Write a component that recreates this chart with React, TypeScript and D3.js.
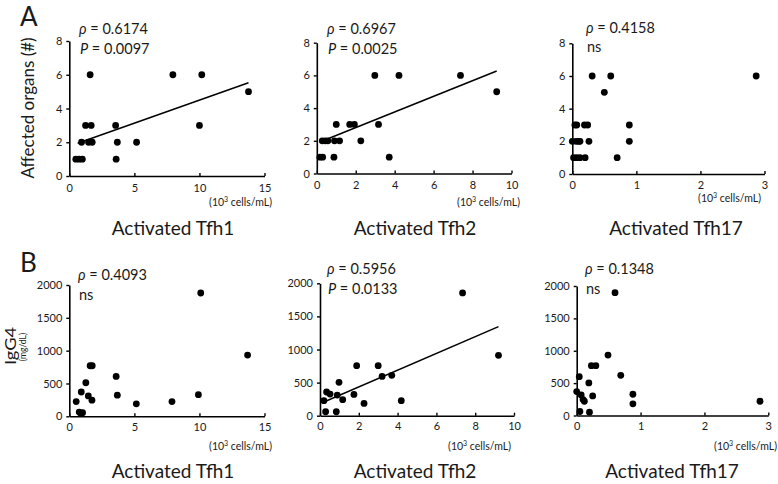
import React, { useEffect, useRef } from 'react';
import * as d3 from 'd3';

const W = 778;
const H = 484;
const FONT = 'Lato, "Open Sans", sans-serif';
const INK = '#1a1a1a';

// tick values
const organTicks = [0, 2, 4, 6, 8];
const igg4Ticks = [0, 500, 1000, 1500, 2000];
const tfh1Ticks = [0, 5, 10, 15];
const tfh2Ticks = [0, 2, 4, 6, 8, 10];
const tfh17Ticks = [0, 1, 2, 3];

// A: affected organs vs activated Tfh counts (10^3 cells/mL)
const tfh1OrgX = [0.5, 0.75, 1.0, 3.6, 0.94, 1.48, 1.76, 3.69, 5.17, 1.25, 1.68, 3.56, 10.0, 13.77, 1.6, 7.96, 10.18];
const tfh1OrgY = [1, 1, 1, 1, 2, 2, 2, 2, 2, 3, 3, 3, 3, 5, 6, 6, 6];
const tfh2OrgX = [0.16, 0.3, 0.88, 3.72, 0.28, 0.43, 0.57, 0.91, 1.17, 2.26, 1.0, 1.69, 1.93, 3.17, 9.24, 2.98, 4.22, 7.38];
const tfh2OrgY = [1, 1, 1, 1, 2, 2, 2, 2, 2, 2, 3, 3, 3, 3, 5, 6, 6, 6];
const tfh17OrgX = [0.02, 0.07, 0.12, 0.2, 0.7, 0, 0.06, 0.1, 0.12, 0.26, 0.89, 0.04, 0.07, 0.19, 0.24, 0.89, 0.5, 0.31, 0.6, 2.87];
const tfh17OrgY = [1, 1, 1, 1, 1, 2, 2, 2, 2, 2, 2, 3, 3, 3, 3, 3, 5, 6, 6, 6];

// B: serum IgG4 (mg/dL) vs activated Tfh counts
const tfh1IgX = [0.53, 0.76, 0.88, 1.02, 0.92, 1.27, 1.6, 1.76, 1.46, 1.74, 3.6, 3.69, 5.15, 7.89, 9.92, 10.1, 13.7];
const tfh1IgY = [225, 65, 45, 55, 370, 511, 770, 770, 310, 245, 608, 322, 190, 225, 329, 1878, 932];
const tfh2IgX = [0.2, 0.29, 0.34, 0.52, 0.84, 0.89, 0.98, 1.17, 1.75, 1.89, 2.27, 3.0, 3.2, 3.7, 4.19, 7.35, 9.2];
const tfh2IgY = [227, 60, 358, 327, 60, 312, 504, 242, 322, 756, 186, 756, 594, 610, 227, 1854, 912];
const tfh17IgX = [0, 0.04, 0.05, 0.07, 0.1, 0.12, 0.19, 0.2, 0.23, 0.25, 0.3, 0.49, 0.6, 0.69, 0.88, 0.88, 2.87];
const tfh17IgY = [369, 600, 62, 318, 246, 220, 503, 51, 769, 303, 769, 933, 1897, 620, 328, 180, 220];

// regression lines (end points)
const fitTfh1Org = [[0.64, 1.94], [13.77, 5.53]];
const fitTfh2Org = [[0.22, 1.96], [9.24, 6.27]];
const fitTfh2Ig = [[0.2, 207], [9.2, 1345]];

const rhos = ['0.6174', '0.6967', '0.4158', '0.4093', '0.5956', '0.1348'];
const pvals = ['0.0097', '0.0025', 'ns', 'ns', '0.0133', 'ns'];
const cells = ['Tfh1', 'Tfh2', 'Tfh17', 'Tfh1', 'Tfh2', 'Tfh17'];

const panels = [
  { xs: tfh1OrgX, ys: tfh1OrgY, xMax: 15, yMax: 8, xTicks: tfh1Ticks, yTicks: organTicks, fit: fitTfh1Org,
    left: 69.3, right: 264.5, bottom: 176, top: 41, pad: 8.5, statX: 79, statY: 34, unitR: 272, unitY: 206, labX: 173, labY: 235 },
  { xs: tfh2OrgX, ys: tfh2OrgY, xMax: 10, yMax: 8, xTicks: tfh2Ticks, yTicks: organTicks, fit: fitTfh2Org,
    left: 316.8, right: 511.5, bottom: 173.5, top: 42.7, pad: 8, statX: 327, statY: 34, unitR: 520, unitY: 206, labX: 415, labY: 235 },
  { xs: tfh17OrgX, ys: tfh17OrgY, xMax: 3, yMax: 8, xTicks: tfh17Ticks, yTicks: organTicks, fit: null,
    left: 572.3, right: 764.5, bottom: 174, top: 43.3, pad: 7.5, statX: 586, statY: 32.5, unitR: 761, unitY: 202, labX: 676, labY: 235 },
  { xs: tfh1IgX, ys: tfh1IgY, xMax: 15, yMax: 2000, xTicks: tfh1Ticks, yTicks: igg4Ticks, fit: null,
    left: 69.3, right: 264.5, bottom: 416.3, top: 285, pad: 6.5, statX: 78, statY: 280, unitR: 272, unitY: 450, labX: 173, labY: 478 },
  { xs: tfh2IgX, ys: tfh2IgY, xMax: 10, yMax: 2000, xTicks: tfh2Ticks, yTicks: igg4Ticks, fit: fitTfh2Ig,
    left: 320, right: 514, bottom: 415.7, top: 283.3, pad: 6.5, statX: 327, statY: 274, unitR: 511, unitY: 450, labX: 415, labY: 478 },
  { xs: tfh17IgX, ys: tfh17IgY, xMax: 3, yMax: 2000, xTicks: tfh17Ticks, yTicks: igg4Ticks, fit: null,
    left: 576.7, right: 768.3, bottom: 415.5, top: 286, pad: 6.5, statX: 585, statY: 274, unitR: 777, unitY: 450, labX: 672, labY: 478 },
];

export default function App() {
  const ref = useRef<SVGSVGElement>(null);

  useEffect(() => {
    const svg = d3.select(ref.current);
    svg.selectAll('*').remove();
    const fmt = d3.format('d');

    panels.forEach((p, i) => {
      const x = d3.scaleLinear().domain([0, p.xMax]).range([p.left, p.right]);
      const y = d3.scaleLinear().domain([0, p.yMax]).range([p.bottom, p.top]);
      const g = svg.append('g');

      g.append('g')
        .attr('transform', `translate(0,${p.bottom})`)
        .call(d3.axisBottom(x).tickValues(p.xTicks).tickFormat(fmt).tickSizeInner(-3).tickSizeOuter(0).tickPadding(p.pad))
        .attr('font-size', 11).attr('font-family', FONT)
        .call(a => a.selectAll('text').attr('fill', INK))
        .call(a => a.select('.domain').attr('stroke-width', 1.6))
        .call(a => a.selectAll('.tick line').attr('stroke-width', 1.4));

      g.append('g')
        .attr('transform', `translate(${p.left},0)`)
        .call(d3.axisLeft(y).tickValues(p.yTicks).tickFormat(fmt).tickSizeInner(3).tickSizeOuter(0).tickPadding(4))
        .attr('font-size', 11).attr('font-family', FONT)
        .call(a => a.selectAll('text').attr('fill', INK))
        .call(a => a.select('.domain').attr('stroke-width', 1.6))
        .call(a => a.selectAll('.tick line').attr('stroke-width', 1.4));

      if (p.fit) {
        g.append('path')
          .attr('d', d3.line()(p.fit.map(d => [x(d[0]), y(d[1])] as [number, number])))
          .attr('stroke', '#000').attr('stroke-width', 1.5).attr('fill', 'none');
      }

      g.append('g')
        .selectAll('circle')
        .data(d3.zip(p.xs, p.ys))
        .join('circle')
        .attr('cx', d => x(d[0]))
        .attr('cy', d => y(d[1]))
        .attr('r', 3.4)
        .attr('fill', '#000');

      const st = g.append('g').attr('font-family', FONT).attr('font-size', 14.5).attr('fill', INK);
      const t1 = st.append('text').attr('x', p.statX).attr('y', p.statY);
      t1.append('tspan').attr('font-style', 'italic').text('ρ');
      t1.append('tspan').text(` = ${rhos[i]}`);
      const t2 = st.append('text').attr('x', p.statX + 1).attr('y', p.statY + 19.5);
      if (pvals[i] === 'ns') {
        t2.text('ns');
      } else {
        t2.append('tspan').attr('font-style', 'italic').text('P');
        t2.append('tspan').text(` = ${pvals[i]}`);
      }

      const u = g.append('text')
        .attr('x', p.unitR).attr('y', p.unitY)
        .attr('text-anchor', 'end')
        .attr('font-family', FONT).attr('font-size', 10.5).attr('fill', INK);
      u.append('tspan').text('(10');
      u.append('tspan').attr('font-size', 7).attr('dy', -4).text('3');
      u.append('tspan').attr('dy', 4).text(' cells/mL)');

      g.append('text')
        .attr('x', p.labX).attr('y', p.labY)
        .attr('text-anchor', 'middle')
        .attr('font-family', FONT).attr('font-size', 19).attr('fill', INK)
        .text(`Activated ${cells[i]}`);
    });

    const lab = svg.append('g').attr('font-family', FONT).attr('fill', INK);
    lab.append('text').attr('x', 20).attr('y', 26).attr('font-size', 26).text('A');
    lab.append('text').attr('x', 20).attr('y', 272).attr('font-size', 26).text('B');
    lab.append('text')
      .attr('transform', 'translate(34,108) rotate(-90)')
      .attr('text-anchor', 'middle').attr('font-size', 17)
      .text('Affected organs (#)');
    lab.append('text')
      .attr('transform', 'translate(16,346) rotate(-90)')
      .attr('text-anchor', 'middle').attr('font-size', 16)
      .attr('textLength', 38).attr('lengthAdjust', 'spacingAndGlyphs')
      .text('IgG4');
    lab.append('text')
      .attr('transform', 'translate(26,347) rotate(-90)')
      .attr('text-anchor', 'middle').attr('font-size', 8.5)
      .text('(mg/dL)');
  }, []);

  return (
    <svg ref={ref} width={W} height={H} viewBox={`0 0 ${W} ${H}`}
      style={{ position: 'absolute', left: 0, top: 0, background: '#fff' }} />
  );
}
